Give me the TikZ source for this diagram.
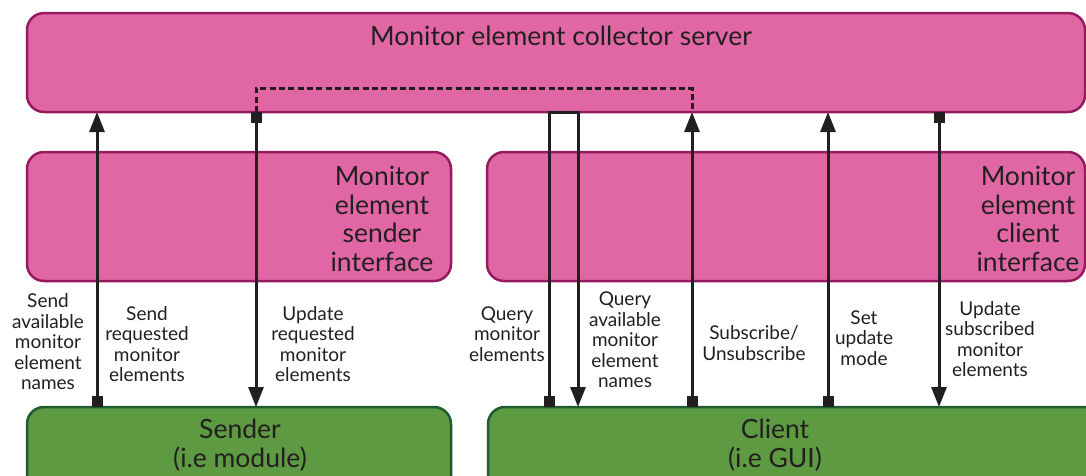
\documentclass[tikz,border=0pt]{standalone}
\usepackage{fontspec}
\setmainfont{Lato}
\usetikzlibrary{arrows.meta}
\definecolor{pinkfill}{RGB}{224,103,164}
\definecolor{pinkdraw}{RGB}{150,26,95}
\definecolor{greenfill}{RGB}{93,154,66}
\definecolor{greendraw}{RGB}{32,92,48}
\definecolor{ink}{RGB}{35,31,32}
\tikzset{
  pinkbox/.style={draw=pinkdraw, fill=pinkfill, line width=2.5pt, rounded corners=17pt, inner sep=0pt, outer sep=0pt},
  greenbox/.style={draw=greendraw, fill=greenfill, line width=2.5pt, rounded corners=17pt, inner sep=0pt, outer sep=0pt},
  bigtext/.style={text=ink, font=\fontsize{26.5}{28.5}\selectfont, align=center, inner sep=0pt},
  smalltext/.style={text=ink, font=\fontsize{19}{20.5}\selectfont, align=center, inner sep=0pt},
  conn/.style={draw=ink, line width=3pt},
  upconn/.style={conn, arrows={Square[length=11pt,width=11pt]-Triangle[length=20pt,width=15pt]}},
  dashconn/.style={draw=ink, line width=3pt, dash pattern=on 6pt off 3.3pt},
}
\begin{document}
\begin{tikzpicture}[x=1pt,y=-1pt]
\useasboundingbox (0,0) rectangle (1086,475);
\clip (0,0) rectangle (1086,475);
% boxes
\node[pinkbox, minimum width=1058pt, minimum height=99pt] (server) at (556,62.5) {};
\node[pinkbox, minimum width=424pt, minimum height=129pt] (siface) at (239,216.5) {};
\node[pinkbox, minimum width=598pt, minimum height=129pt] (ciface) at (786,216.5) {};
\node[greenbox, minimum width=424pt, minimum height=100pt] (sender) at (239,457) {};
\node[greenbox, minimum width=620pt, minimum height=100pt] (client) at (798,457) {};
% box texts
\node[bigtext] (servertxt) at (561,36) {Monitor element collector server};
\node[bigtext] (sifacetxt) at (382,219) {Monitor\\element\\sender\\interface};
\node[bigtext] (cifacetxt) at (1028,219) {Monitor\\element\\client\\interface};
\node[bigtext] (sendertxt) at (240,445) {Sender\\(i.e module)};
\node[bigtext] (clienttxt) at (775,445) {Client\\(i.e GUI)};
% x positions
\coordinate (xa) at (97,0);
\coordinate (xb) at (256,0);
\coordinate (xc) at (549,0);
\coordinate (xd) at (578,0);
\coordinate (xe) at (692,0);
\coordinate (xf) at (828,0);
\coordinate (xg) at (939,0);
% dashed link inside server
\draw[dashconn] (xb |- server.south) -- ++(0,-23.5) -| (xe |- server.south);
% connectors
\draw[upconn] (xa |- sender.north) -- (xa |- server.south);
\draw[upconn] (xb |- server.south) -- (xb |- sender.north);
\draw[upconn] (xc |- client.north) -- (xc |- server.south) -- (xd |- server.south) -- (xd |- client.north);
\draw[upconn] (xe |- client.north) -- (xe |- server.south);
\draw[upconn] (xf |- client.north) -- (xf |- server.south);
\draw[upconn] (xg |- server.south) -- (xg |- client.north);
% labels
\node[smalltext] (l1) at (48,342) {Send\\available\\monitor\\element\\names};
\node[smalltext] (l2) at (147,344) {Send\\requested\\monitor\\elements};
\node[smalltext] (l3) at (313,344) {Update\\requested\\monitor\\elements};
\node[smalltext] (l4) at (507,334) {Query\\monitor\\elements};
\node[smalltext] (l5) at (625,340) {Query\\available\\monitor\\element\\names};
\node[smalltext] (l6) at (754,343) {Subscribe/\\Unsubscribe};
\node[smalltext] (l7) at (864,338) {Set\\update\\mode};
\node[smalltext] (l8) at (990,339) {Update\\subscribed\\monitor\\elements};
\end{tikzpicture}
\end{document}
